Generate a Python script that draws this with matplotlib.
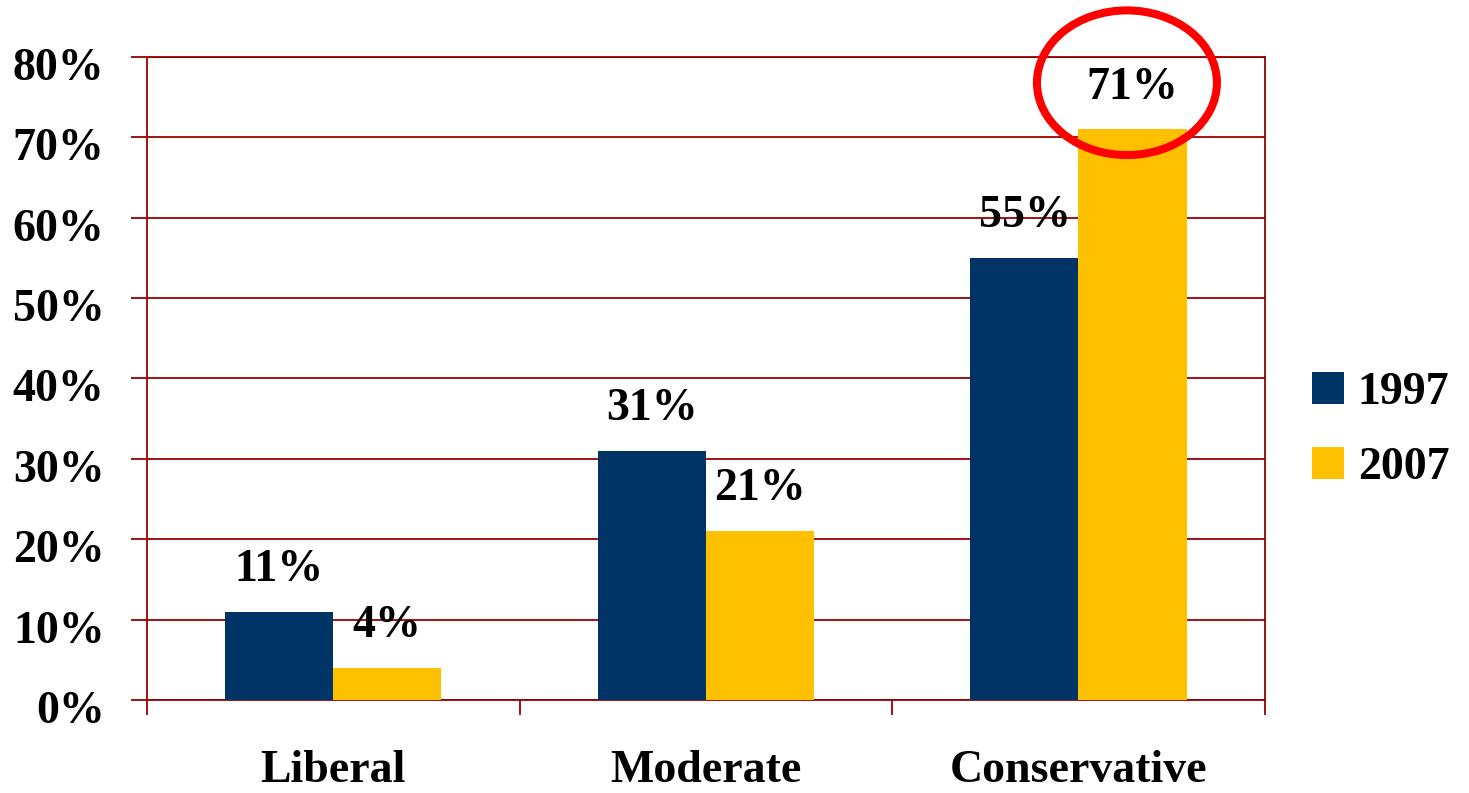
import numpy as np
import matplotlib
matplotlib.use('Agg')
from matplotlib import pyplot as plt
from matplotlib.patches import Ellipse
import matplotlib.transforms as mtransforms

# Data
categories = ['Liberal', 'Moderate', 'Conservative']
years = ['1997', '2007']
values_1997 = [11, 31, 55]
values_2007 = [4, 21, 71]

colors = ['#003366', '#FFC000']
grid_color = '#990000'

plt.rcParams['font.family'] = ['Liberation Serif', 'DejaVu Serif']
plt.rcParams['font.weight'] = 'bold'

fig = plt.figure(figsize=(14.69, 7.93), dpi=100)
ax = fig.add_axes([0.1, 0.1173, 0.761, 0.8108])

x = np.arange(len(categories))
w = 0.29
fs = 33

bars_a = ax.bar(x - w / 2, values_1997, w, color=colors[0], label=years[0], zorder=3)
bars_b = ax.bar(x + w / 2, values_2007, w, color=colors[1], label=years[1], zorder=3)

for bars in (bars_a, bars_b):
    for b in bars:
        ax.annotate(f"{b.get_height():.0f}%",
                    (b.get_x() + b.get_width() / 2, b.get_height()),
                    xytext=(0, 15), textcoords='offset points',
                    ha='center', va='bottom', fontsize=fs, fontweight='bold')

# Axes styling
ax.set_xlim(-0.5, 2.5)
ax.set_ylim(0, 80)
ax.set_yticks(np.arange(0, 81, 10))
ax.set_yticklabels([f"{v}%" for v in range(0, 81, 10)], fontsize=fs, fontweight='bold')
ax.yaxis.grid(True, color=grid_color, linewidth=1.3, zorder=0)
ax.tick_params(axis='y', length=11.5, width=1.3, color=grid_color, pad=19)
shift = mtransforms.ScaledTranslation(0, -7 / 100, fig.dpi_scale_trans)
for lbl in ax.get_yticklabels():
    lbl.set_transform(lbl.get_transform() + shift)

ax.set_xticks(x)
ax.set_xticklabels(categories, fontsize=fs, fontweight='bold')
ax.set_xticks([-0.5, 0.5, 1.5, 2.5], minor=True)
ax.tick_params(axis='x', which='major', length=0, pad=36)
ax.tick_params(axis='x', which='minor', length=11, width=1.3, color=grid_color)

for s in ax.spines.values():
    s.set_color(grid_color)
    s.set_linewidth(1.3)

# Highlight circle around the 2007 conservative value
ell = Ellipse((2 + 0.13, 76.8), 0.483, 18.0, fill=False, edgecolor='red',
              linewidth=5.8, clip_on=False, zorder=5)
ax.add_patch(ell)

fig.legend(loc='center left', bbox_to_anchor=(0.893, 0.457), frameon=False,
           prop={'size': fs, 'weight': 'bold'}, handlelength=0.7,
           handleheight=0.7, handletextpad=0.3, labelspacing=0.72,
           borderpad=0, borderaxespad=0)

fig.savefig('out.png', dpi=100)
